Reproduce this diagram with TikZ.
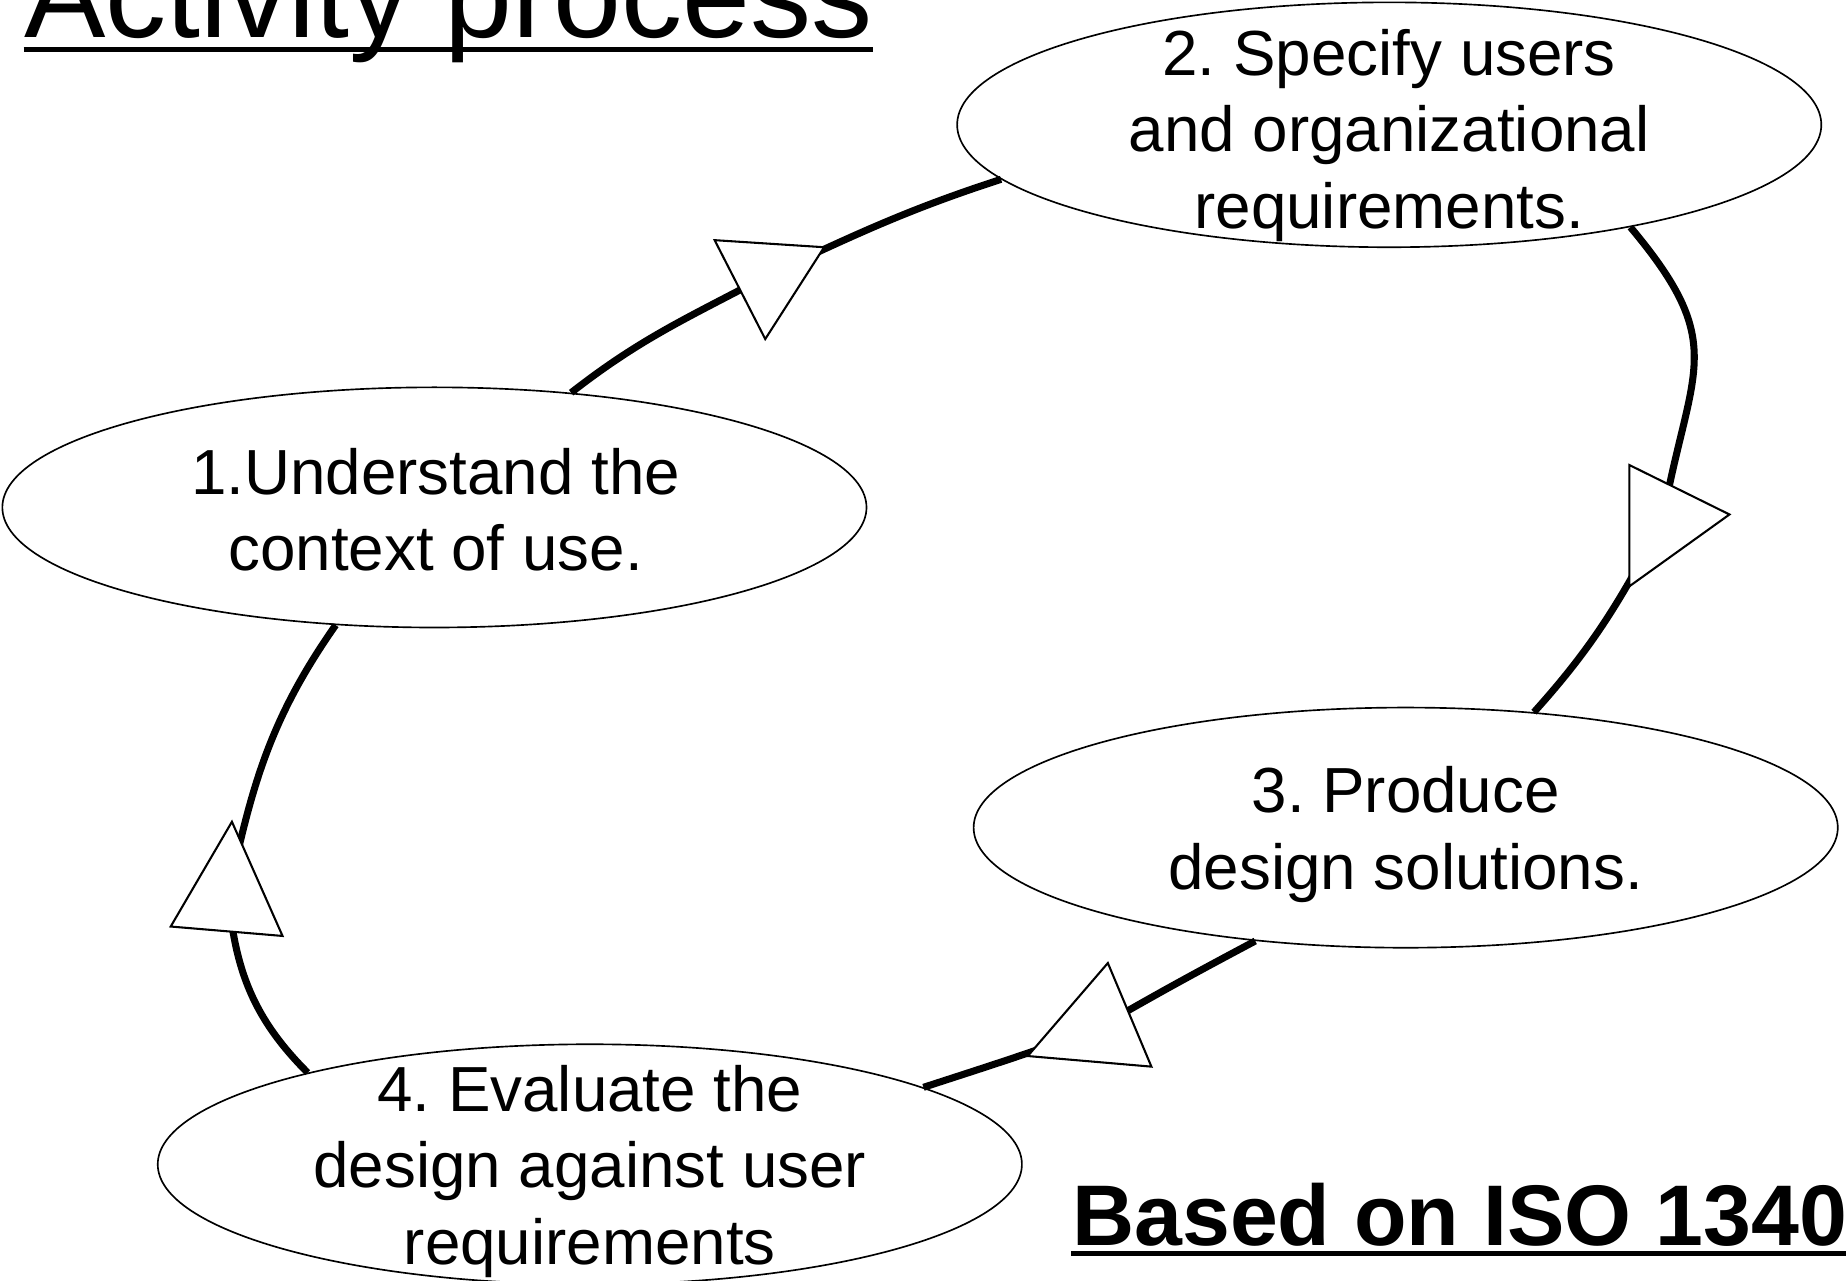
\documentclass[tikz,border=0pt]{standalone}
\usepackage{fontspec}
\setmainfont{Liberation Sans}
\usetikzlibrary{shapes.geometric}
\frenchspacing
\newcommand{\stagefont}{\fontsize{15.4}{18.5}\selectfont}
\newcommand{\titlefont}{\fontsize{29.5}{35}\selectfont}
\newcommand{\basisfont}{\fontsize{20.8}{25}\selectfont\bfseries}
\tikzset{
  stage/.style={ellipse, draw, line width=0.4pt, minimum width=7.34cm, minimum height=2.04cm, inner sep=0pt},
  stagetext/.style={align=center, font=\stagefont, inner sep=0pt},
  cycleline/.style={line width=1.7pt},
  arrowtri/.style={draw, fill=white, line width=0.5pt, line join=miter},
  ulline/.style={line width=1.2pt}
}
\begin{document}
\begin{tikzpicture}
      \useasboundingbox (0,0) rectangle (15.68,10.88);

      \node[font=\titlefont, inner sep=0pt, anchor=base west] (title) at (0.20,10.56) {Activity process};
      \node[font=\basisfont, inner sep=0pt, anchor=base west] (basis) at (9.10,0.30) {Based on ISO 13407};
      \draw[ulline] ([yshift=-0.10cm]title.base west) -- ([yshift=-0.10cm]title.base east);
      \draw[ulline] ([yshift=-0.07cm]basis.base west) -- ([yshift=-0.07cm]basis.base east);

      \node[stage] (e1) at (3.69,6.57) {};
      \node[stage, minimum height=2.08cm] (e2) at (11.80,9.82) {};
      \node[stage] (e3) at (11.94,3.85) {};
      \node[stage] (e4) at (5.01,0.99) {};

      \node[stagetext] (e1t) at (3.70,6.55) {1.Understand the\\context of use.};
      \node[stagetext] (e2t) at (11.80,9.73) {2. Specify users\\and organizational\\requirements.};
      \node[stagetext] (e3t) at (11.94,3.79) {3. Produce\\design solutions.};
      \node[stagetext] (e4t) at (5.01,0.93) {4. Evaluate the\\design against user\\requirements};

      \coordinate (tA) at (6.52,8.54);
      \coordinate (tB) at (14.12,6.45);
      \coordinate (tC) at (9.31,2.14);
      \coordinate (tD) at (1.94,3.28);

      \draw[cycleline] (e1.40) to [out=38,in=208] (tA);
      \draw[cycleline] (tA) to [out=25,in=198] (e2.188);
      \draw[cycleline] (e2.337) to [out=-50,in=80,looseness=1.35] (tB);
      \draw[cycleline] (tB) to [out=-118,in=48] (e3.42);
      \draw[cycleline] (e3.217) to [out=208,in=30] (tC);
      \draw[cycleline] (tC) to [out=200,in=18] (e4.13);
      \draw[cycleline] (e4.162) to [out=135,in=-85] (tD);
      \draw[cycleline] (tD) to [out=78,in=235] (e1.230);

      \draw[arrowtri] (6.07,8.84) -- (7.00,8.78) -- (6.50,8.00) -- cycle;
      \draw[arrowtri] (13.84,6.93) -- (14.69,6.51) -- (13.84,5.90) -- cycle;
      \draw[arrowtri] (9.41,2.70) -- (9.78,1.82) -- (8.73,1.91) -- cycle;
      \draw[arrowtri] (1.97,3.90) -- (2.40,2.93) -- (1.45,3.01) -- cycle;
    \end{tikzpicture}
\end{document}
